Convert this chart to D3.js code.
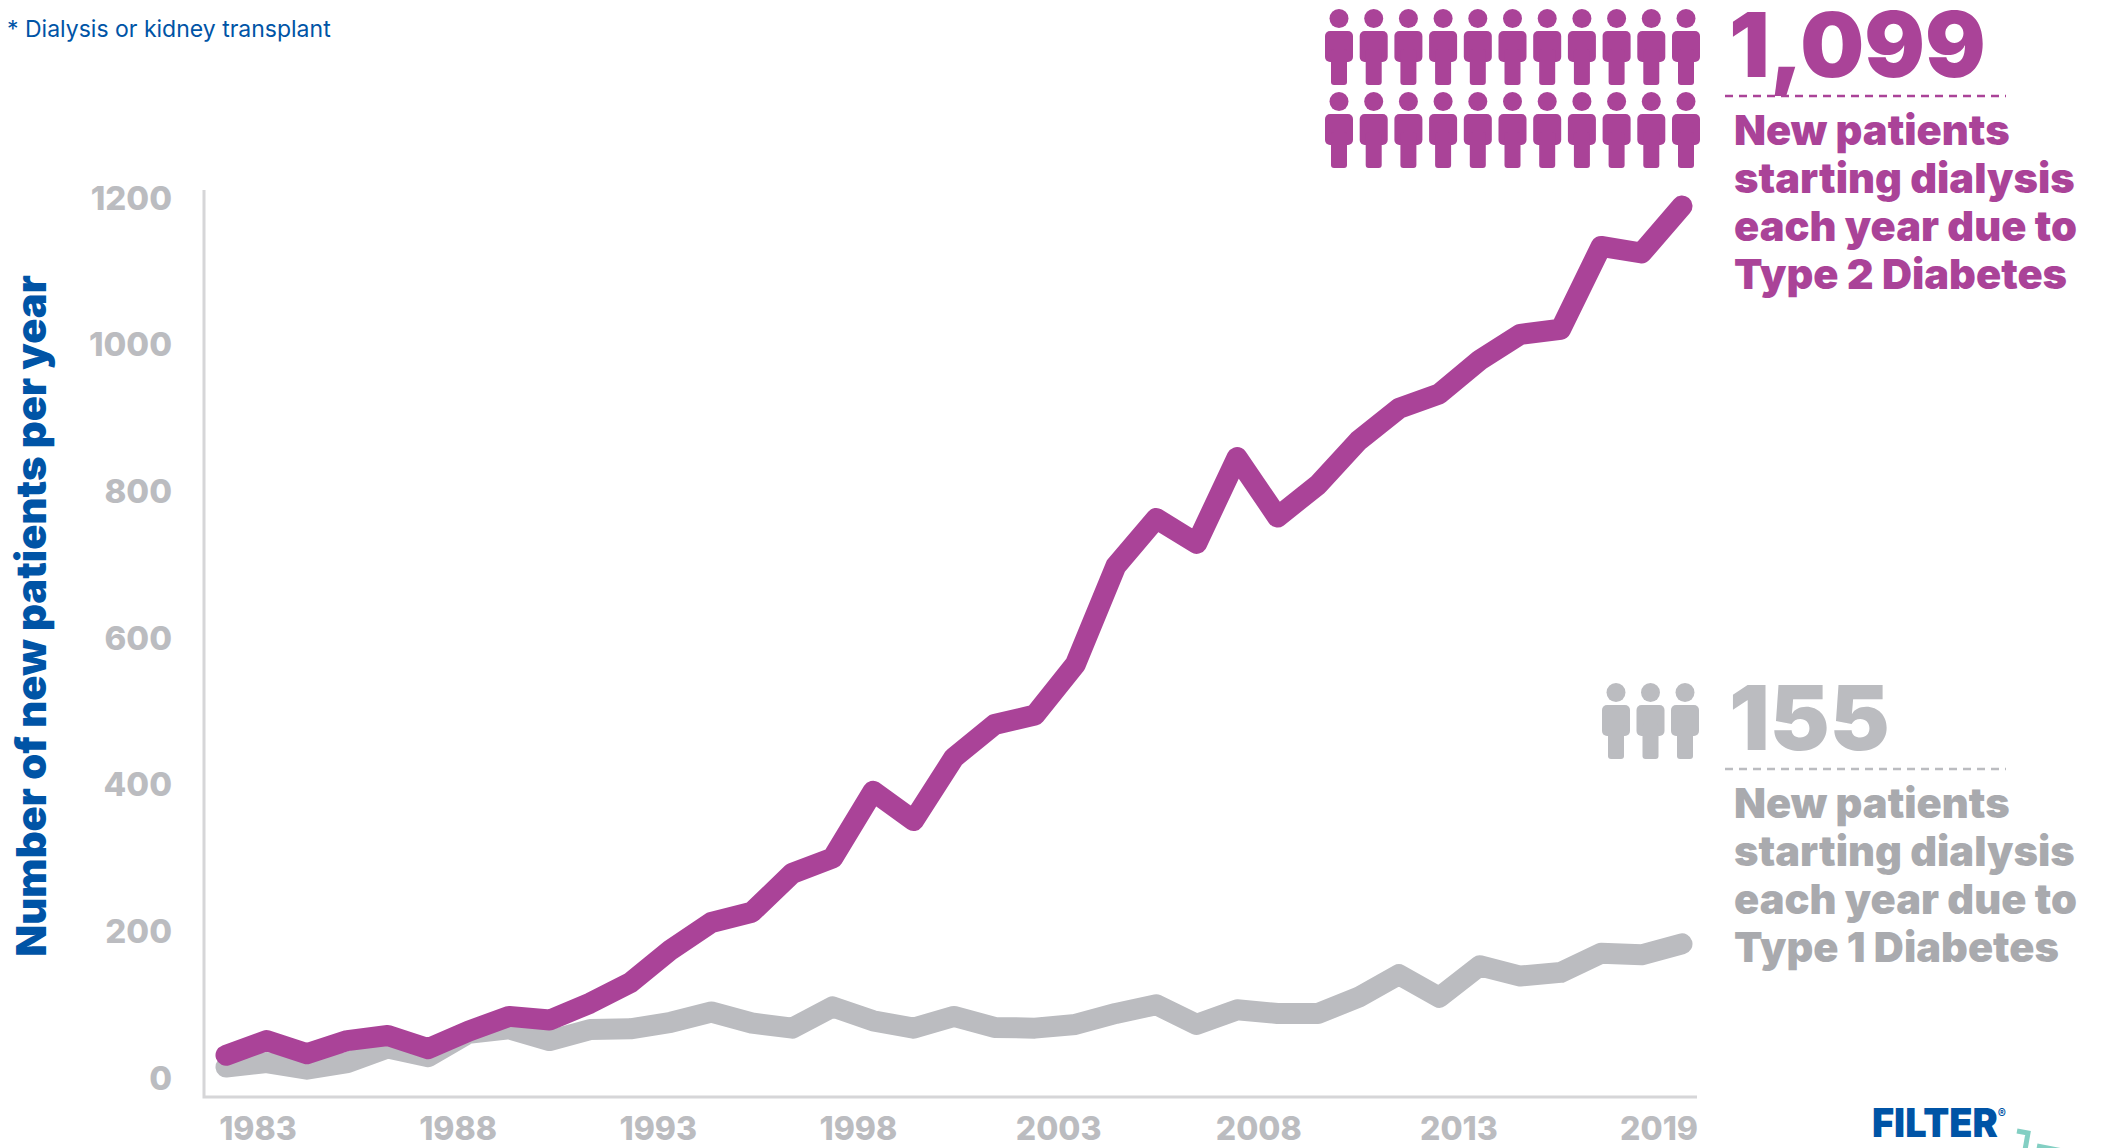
<!DOCTYPE html>
<html>
<head>
<meta charset="utf-8">
<script src="https://cdn.jsdelivr.net/npm/d3@7"></script>
<style>
  html, body { margin: 0; padding: 0; background: #fff; overflow: hidden; }
  text { font-family: Inter, "Noto Sans", sans-serif; }
</style>
</head>
<body>
<script>
var years = d3.range(1983, 2020);
var type2 = [31, 51, 33, 51, 58, 40, 64, 84, 79, 102, 130, 175, 212, 226, 279, 300, 391, 351, 437, 482, 495, 564, 698, 763, 729, 846, 765, 809, 869, 913, 933, 979, 1014, 1021, 1134, 1125, 1189];
var type1 = [15, 21, 12, 21, 41, 29, 61, 67, 51, 66, 67, 76, 90, 75, 68, 97, 78, 68, 84, 69, 68, 73, 88, 100, 73, 93, 88, 88, 110, 141, 110, 153, 139, 144, 170, 168, 183];
var yTicks = [0, 200, 400, 600, 800, 1000, 1200];
var xTickLabels = ['1983', '1988', '1993', '1998', '2003', '2008', '2013', '2019'];
var type2Lines = ['New patients', 'starting dialysis', 'each year due to', 'Type 2 Diabetes'];
var type1Lines = ['New patients', 'starting dialysis', 'each year due to', 'Type 1 Diabetes'];

var PURPLE = '#aa4398';
var GREY = '#bbbcc0';
var TEXT_GREY = '#a9aaae';
var BLUE = '#0054a6';
var AXIS_GREY = '#d6d6d8';
var TEAL = '#83cfc3';

var svg = d3.select('body').append('svg')
  .attr('width', 2103)
  .attr('height', 1148);

var x = d3.scaleLinear().domain([1983, 2019]).range([226, 1682]);
var y = d3.scaleLinear().domain([0, 1200]).range([1078, 198]);
// the year labels are evenly spaced in the original, even the last 6 year step
var xLabel = d3.scalePoint().domain(xTickLabels).range([258, 1659]);

// axis lines
var axisLine = d3.line();
svg.append('path')
  .attr('d', axisLine([[204, 190], [204, 1097], [1697, 1097]]))
  .attr('fill', 'none')
  .attr('stroke', AXIS_GREY)
  .attr('stroke-width', 3);

// tick labels
svg.selectAll('.y-tick').data(yTicks).enter()
  .append('text')
  .attr('class', 'y-tick')
  .attr('x', 172)
  .attr('y', function(d) { return y(d); })
  .attr('dy', '0.35em')
  .attr('text-anchor', 'end')
  .attr('font-size', 33)
  .attr('font-weight', 800)
  .attr('fill', GREY)
  .text(function(d) { return d; });

svg.selectAll('.x-tick').data(xTickLabels).enter()
  .append('text')
  .attr('class', 'x-tick')
  .attr('x', function(d) { return xLabel(d); })
  .attr('y', 1140)
  .attr('text-anchor', 'middle')
  .attr('font-size', 32)
  .attr('font-weight', 800)
  .attr('fill', GREY)
  .text(function(d) { return d; });

svg.append('text')
  .attr('transform', 'translate(46,616) rotate(-90)')
  .attr('text-anchor', 'middle')
  .attr('font-size', 41.7)
  .attr('font-weight', 900)
  .attr('fill', BLUE)
  .text('Number of new patients per year');

// lines
var line = d3.line()
  .x(function(d, i) { return x(years[i]); })
  .y(function(d) { return y(d); });

function drawSeries(values, color) {
  svg.append('path')
    .attr('d', line(values))
    .attr('fill', 'none')
    .attr('stroke', color)
    .attr('stroke-width', 21)
    .attr('stroke-linecap', 'round')
    .attr('stroke-linejoin', 'round');
}
drawSeries(type1, GREY);
drawSeries(type2, PURPLE);

// little person icon, origin top left of the figure
function drawPerson(px, py, color) {
  var g = svg.append('g')
    .attr('transform', 'translate(' + px + ',' + py + ')')
    .attr('fill', color);
  g.append('circle').attr('cx', 14).attr('cy', 9.5).attr('r', 9.5);
  g.append('rect').attr('x', 0).attr('y', 22).attr('width', 28).attr('height', 31).attr('rx', 5);
  g.append('rect').attr('x', 6).attr('y', 40).attr('width', 16).attr('height', 36).attr('rx', 3);
}

var perRow = d3.range(11);
[9, 92].forEach(function(rowY) {
  perRow.forEach(function(i) {
    drawPerson(1325 + i * 34.7, rowY, PURPLE);
  });
});
[0, 1, 2].forEach(function(i) {
  drawPerson(1602 + i * 34.5, 683, GREY);
});

// call outs
function drawCallout(number, lines, top, color, numColor, lineColor) {
  svg.append('text')
    .attr('x', 1729)
    .attr('y', top + 70)
    .attr('font-size', 90)
    .attr('font-weight', 900)
    .attr('fill', numColor)
    .text(number);

  svg.append('line')
    .attr('x1', 1725).attr('x2', 2006)
    .attr('y1', top + 89).attr('y2', top + 89)
    .attr('stroke', lineColor)
    .attr('stroke-width', 2.5)
    .attr('stroke-dasharray', '8 6');

  svg.selectAll(null).data(lines).enter()
    .append('text')
    .attr('x', 1734)
    .attr('y', function(d, i) { return top + 138 + i * 48; })
    .attr('font-size', 41.6)
    .attr('font-weight', 900)
    .attr('fill', color)
    .text(function(d) { return d; });
}
drawCallout('1,099', type2Lines, 7, PURPLE, PURPLE, PURPLE);
drawCallout('155', type1Lines, 680, TEXT_GREY, GREY, GREY);

// footnote, first line runs off the top of the picture
svg.append('text')
  .attr('x', 7)
  .attr('y', 37)
  .attr('font-size', 23)
  .attr('fill', BLUE)
  .text('* Dialysis or kidney transplant');

// logo
var logo = svg.append('text')
  .attr('x', 1872)
  .attr('y', 1137)
  .attr('font-size', 40)
  .attr('font-weight', 900)
  .attr('textLength', 134)
  .attr('lengthAdjust', 'spacingAndGlyphs')
  .attr('fill', BLUE)
  .text('FILTER');
logo.append('tspan')
  .attr('font-size', 13)
  .attr('font-weight', 700)
  .attr('dy', -19)
  .text('®');
svg.append('path')
  .attr('d', axisLine([[2017, 1131], [2028, 1133], [2025, 1150]]))
  .attr('fill', 'none')
  .attr('stroke', TEAL)
  .attr('stroke-width', 5);
svg.append('path')
  .attr('d', axisLine([[2037, 1146], [2068, 1152]]))
  .attr('fill', 'none')
  .attr('stroke', TEAL)
  .attr('stroke-width', 5);
</script>
</body>
</html>
